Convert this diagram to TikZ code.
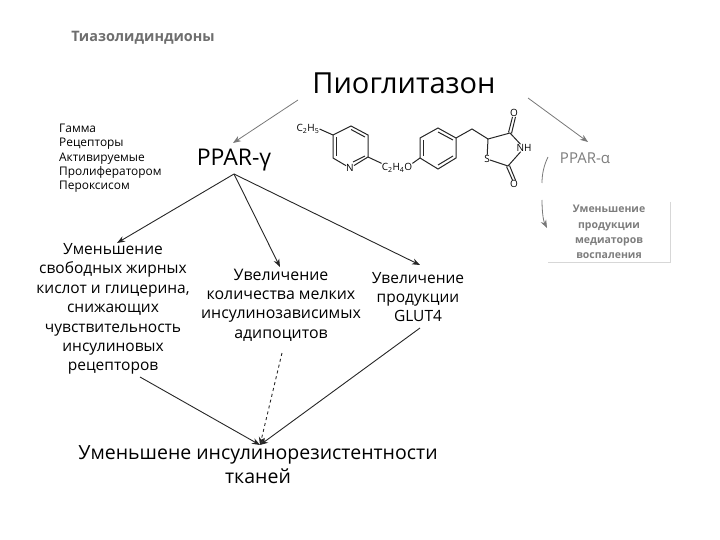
\documentclass[tikz,border=0pt]{standalone}
\usepackage{fontspec}
\setmainfont{Open Sans}
\usetikzlibrary{arrows.meta, positioning, calc}
\definecolor{darkgrayarrow}{RGB}{120, 120, 120}
\definecolor{titlegray}{RGB}{110, 110, 110}
\definecolor{fadedgray}{RGB}{125, 125, 125}
\definecolor{edgegray}{RGB}{215, 215, 215}
\tikzset{
  label big/.style   = {font=\fontsize{29}{33}\selectfont, inner sep=0pt},
  label box/.style   = {font=\fontsize{15.5}{19.4}\selectfont, align=center, inner sep=0pt},
  label list/.style  = {font=\fontsize{11.9}{14.3}\selectfont, align=left, anchor=north west, inner sep=0pt},
  label atom/.style  = {font=\fontsize{10}{12}\selectfont, inner sep=0pt},
  flow/.style        = {-{Stealth[length=8pt, width=6pt]}, line width=0.9pt, black!85},
  flowdash/.style    = {-{Stealth[length=8pt, width=6pt]}, line width=0.9pt, black!85, dashed},
  flowgray/.style    = {-{Stealth[length=8pt, width=6pt]}, line width=0.8pt, darkgrayarrow},
  bond/.style        = {line width=1pt, black!85},
}
\begin{document}
\begin{tikzpicture}[x=1pt, y=-1pt]
\useasboundingbox (0,0) rectangle (720,540);

% ===================== Title =====================
\node[font=\fontsize{14.4}{17}\selectfont\bfseries, text=titlegray, inner sep=0pt] (title) at (143,38) {Тиазолидиндионы};
\node[label big] (pio) at (404,83) {Пиоглитазон};

% ===================== PPAR labels =====================
\node[label list] (gamma list) at (59,124) {Гамма\\Рецепторы\\Активируемые\\Пролифератором\\Пероксисом};
\node[font=\fontsize{23}{26}\selectfont, inner sep=0pt] (pparg) at (234,160) {PPAR-γ};
\node[font=\fontsize{15}{18}\selectfont, text=fadedgray, inner sep=0pt] (ppara) at (585,158) {PPAR-α};

% ===================== Effects =====================
\node[label box] (eff1) at (113,309) {Уменьшение\\свободных жирных\\кислот и глицерина,\\снижающих\\чувствительность\\инсулиновых\\рецепторов};
\node[label box, font=\fontsize{15.9}{19.4}\selectfont] (eff2) at (281,305) {Увеличение\\количества мелких\\инсулинозависимых\\адипоцитов};
\node[label box] (eff3) at (418,297) {Увеличение\\продукции\\GLUT4};
\node[font=\fontsize{10.5}{15.3}\selectfont\bfseries, text=fadedgray, align=center, minimum width=122pt, minimum height=60pt, inner sep=0pt] (inflam) at (609,232) {Уменьшение\\продукции\\медиаторов\\воспаления};
\draw[edgegray, thick] (inflam.north east) -- (inflam.south east) -- (inflam.south west);

\node[font=\fontsize{19.5}{24}\selectfont, align=center, inner sep=0pt] (result) at (258,465) {Уменьшене инсулинорезистентности\\тканей};

% ===================== Arrows =====================
\coordinate (pio-l) at (298,100);
\coordinate (pio-r) at (528,98);
\draw[flowgray] (pio-l) -- (233,143);
\draw[flowgray] (pio-r) -- (588,142);

\coordinate (pg) at (234,174);
\coordinate (in1) at (117,243);
\coordinate (in2) at (280,267);
\coordinate (in3) at (420,265);
\draw[flow] (pg) -- (in1);
\draw[flow] (pg) -- (in2);
\draw[flow] (pg) -- (in3);

\coordinate (sink) at (260,445);
\coordinate (out1) at (140,377);
\coordinate (out2) at (282,353);
\coordinate (out3) at (420,328);
\draw[flow] (out1) -- (sink);
\draw[flowdash] (out2) -- (sink);
\draw[flow] (out3) -- (sink);

% curved arrow past the faded box
\coordinate (ca) at (548,157);
\coordinate (cb) at (542,183);
\coordinate (cc) at (542,200);
\coordinate (cd) at (547,228);
\draw[line width=0.8pt, darkgrayarrow] (ca) .. controls (544,165) and (542,174) .. (cb);
\draw[flowgray] (cc) .. controls (542,210) and (543,220) .. (cd);

% ===================== Molecule =====================
% pyridine
\coordinate (a1) at (333,135);
\coordinate (a2) at (351,126);
\coordinate (a3) at (368,135);
\coordinate (a4) at (368,157);
\coordinate (a6) at (333,158);
\node[label atom] (n1) at (350,168) {N};
\draw[bond] (n1) -- (a6) -- (a1) -- (a2) -- (a3) -- (a4) -- (n1);
\draw[bond] ($(a1)+(3,2)$) -- ($(a6)+(3,-2)$);
\draw[bond] ($(a2)+(0,3.5)$) -- ($(a3)+(-3,2)$);
\draw[bond] ($(a4)+(-3,-1)$) -- ($(n1)+(3,-6)$);
\node[label atom, anchor=center] (c2h5) at (308,129) {C\textsubscript{2}H\textsubscript{5}};
\draw[bond] (c2h5.east) -- (a1);
\node[label atom] (c2h4o) at (397,168) {C\textsubscript{2}H\textsubscript{4}O};
\draw[bond] (a4) -- (c2h4o.north west);

% benzene
\coordinate (b1) at (438,128);
\coordinate (b2) at (456,138);
\coordinate (b3) at (456,158);
\coordinate (b4) at (438,169);
\coordinate (b5) at (420,158);
\coordinate (b6) at (420,138);
\draw[bond] (b1) -- (b2) -- (b3) -- (b4) -- (b5) -- (b6) -- cycle;
\draw[bond] ($(b1)+(0,4)$) -- ($(b2)+(-3,2)$);
\draw[bond] ($(b3)+(-3,-2)$) -- ($(b4)+(0,-4)$);
\draw[bond] ($(b5)+(3,-2)$) -- ($(b6)+(3,2)$);
\draw[bond] (c2h4o.north east) -- (b5);

% thiazolidinedione
\coordinate (ch2) at (472,129);
\coordinate (t1) at (488,139);
\coordinate (t2) at (510,133);
\coordinate (t3) at (508,166);
\node[label atom] (nh) at (524,148) {NH};
\node[label atom] (s1) at (487,159) {S};
\node[label atom] (o1) at (514,113) {O};
\node[label atom] (o2) at (514,184) {O};
\draw[bond] (b2) -- (ch2) -- (t1) -- (t2) -- (nh);
\draw[bond] (nh) -- (t3) -- (s1) -- (t1);
\draw[bond] ($(t2)+(-1.5,-0.5)$) -- ($(o1.south)+(-1.5,0)$);
\draw[bond] ($(t2)+(1.5,0.5)$) -- ($(o1.south)+(1.5,0)$);
\draw[bond] ($(t3)+(-1.5,0.5)$) -- ($(o2.north)+(-1.5,0)$);
\draw[bond] ($(t3)+(1.5,-0.5)$) -- ($(o2.north)+(1.5,0)$);

\end{tikzpicture}
\end{document}
